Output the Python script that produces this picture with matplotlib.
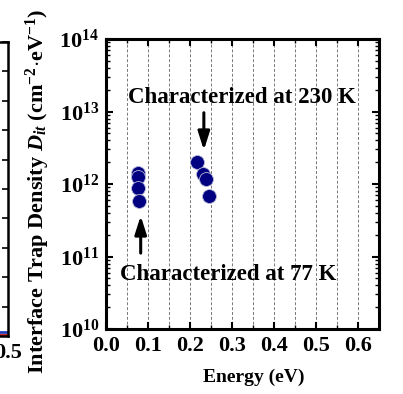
import matplotlib
matplotlib.use("Agg")
import matplotlib.pyplot as plt
from matplotlib.ticker import LogLocator, MultipleLocator, NullFormatter

plt.rcParams['font.family'] = 'Liberation Serif'
plt.rcParams['font.weight'] = 'bold'
plt.rcParams['mathtext.fontset'] = 'custom'
plt.rcParams['mathtext.rm'] = 'Liberation Serif:bold'
plt.rcParams['mathtext.it'] = 'Liberation Serif:italic:bold'
plt.rcParams['mathtext.bf'] = 'Liberation Serif:bold'

# datos: energia (eV) y densidad de trampas (cm^-2 eV^-1)
e_77k = [0.075, 0.075, 0.076, 0.079]
dit_77k = [1.43e12, 1.24e12, 0.87e12, 0.58e12]
e_230k = [0.217, 0.232, 0.237, 0.245]
dit_230k = [2.0e12, 1.37e12, 1.17e12, 0.68e12]

# panel izquierdo (solo se ve el borde)
izq_x = [0.0, 0.5]
izq_azul = [0.12, 0.12]
izq_rojo = [0.03, 0.03]

fig = plt.figure(figsize=(4.03, 3.94), dpi=100)

# --- panel izquierdo recortado ---
ax0 = fig.add_axes([-0.5, 1 - 336 / 394, 0.5 + 8 / 403, (336 - 42) / 394])
ax0.plot(izq_x, izq_azul, color='#1f3fbf', lw=2.0)
ax0.plot(izq_x, izq_rojo, color='#d01010', lw=2.0)
ax0.set_xlim(0, 0.5)
ax0.set_ylim(0, 10)
ax0.set_xticks([0.5])
ax0.set_xticklabels(['0.5'])
ax0.set_yticks(range(0, 11))
ax0.yaxis.tick_right()
ax0.tick_params(axis='y', direction='in', length=4, width=1.2, labelright=False)
ax0.tick_params(axis='x', direction='in', length=0, labelsize=16, pad=5)
for s in ax0.spines.values():
    s.set_linewidth(1.8)

# --- panel principal ---
ax = fig.add_axes([106 / 403, 1 - 329 / 394, (379 - 106) / 403, (329 - 39) / 394])

ax.plot(e_77k, dit_77k, 'o', ms=10, color='#000080', mec='#b8b8d8', mew=0.6, zorder=3)
ax.plot(e_230k, dit_230k, 'o', ms=10, color='#000080', mec='#b8b8d8', mew=0.6, zorder=3)

ax.set_yscale('log')
ax.set_xlim(0, 0.65)
ax.set_ylim(1e10, 1e14)

ax.xaxis.set_major_locator(MultipleLocator(0.1))
ax.xaxis.set_minor_locator(MultipleLocator(0.05))
ax.set_xticks([0.0, 0.1, 0.2, 0.3, 0.4, 0.5, 0.6])
ax.set_xticklabels(['0.0', '0.1', '0.2', '0.3', '0.4', '0.5', '0.6'])
ax.yaxis.set_major_locator(LogLocator(base=10, numticks=10))
ax.yaxis.set_minor_locator(LogLocator(base=10, subs=range(2, 10), numticks=20))
ax.yaxis.set_minor_formatter(NullFormatter())

ax.grid(True, axis='x', which='both', ls='--', color='#777777', lw=0.7, dashes=(3, 2))

ax.tick_params(which='both', direction='in', top=True, right=True, labelsize=16)
ax.tick_params(which='major', length=5, width=1.5)
ax.tick_params(which='minor', length=3, width=1.0)
ax.tick_params(axis='x', pad=5)
ax.tick_params(axis='y', pad=5)
for s in ax.spines.values():
    s.set_linewidth(2.2)

ax.set_xlabel('Energy (eV)', fontsize=14, fontweight='bold')
ax.xaxis.set_label_coords(0.542, -0.138)
ax.set_ylabel(r'Interface Trap Density $\mathit{D}_{\mathit{it}}$ (cm$^{-2}$$\cdot$eV$^{-1}$)',
              fontsize=16, fontweight='bold')
ax.yaxis.set_label_coords(-0.198, 0.475)

ax.text(0.052, 1.58e13, 'Characterized at 230 K', fontsize=16.5, fontweight='bold',
        ha='left', va='center')
ax.text(0.033, 5.56e10, 'Characterized at 77 K', fontsize=16.5, fontweight='bold',
        ha='left', va='center')

ax.annotate('', xy=(0.233, 2.68e12), xytext=(0.233, 1.05e13),
            arrowprops=dict(arrowstyle='-|>,head_length=1.1,head_width=0.35',
                            color='black', lw=2.2))
ax.annotate('', xy=(0.0826, 3.98e11), xytext=(0.0826, 1.02e11),
            arrowprops=dict(arrowstyle='-|>,head_length=1.1,head_width=0.35',
                            color='black', lw=2.2))

fig.savefig('out.png', dpi=100)
